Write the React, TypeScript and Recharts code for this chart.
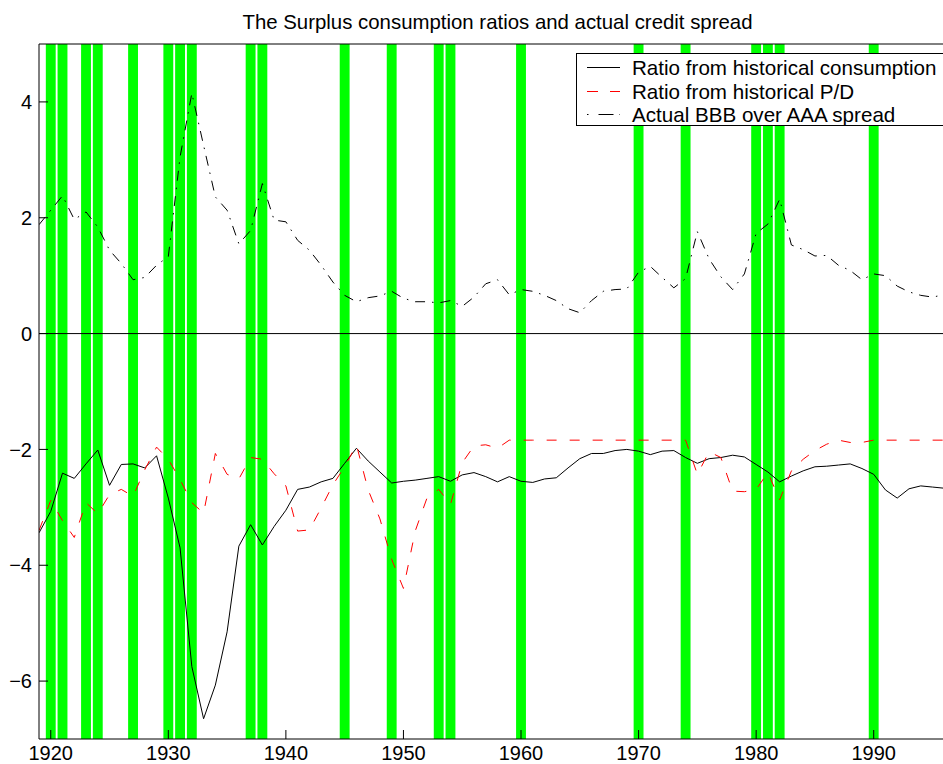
import React from 'react';
import {
  ComposedChart,
  Line,
  XAxis,
  YAxis,
  ReferenceArea,
  ReferenceLine,
  Legend,
} from 'recharts';

// Annual observations
const years = [
  1919, 1920, 1921, 1922, 1923, 1924, 1925, 1926, 1927, 1928,
  1929, 1930, 1931, 1932, 1933, 1934, 1935, 1936, 1937, 1938,
  1939, 1940, 1941, 1942, 1943, 1944, 1945, 1946, 1947, 1948,
  1949, 1950, 1951, 1952, 1953, 1954, 1955, 1956, 1957, 1958,
  1959, 1960, 1961, 1962, 1963, 1964, 1965, 1966, 1967, 1968,
  1969, 1970, 1971, 1972, 1973, 1974, 1975, 1976, 1977, 1978,
  1979, 1980, 1981, 1982, 1983, 1984, 1985, 1986, 1987, 1988,
  1989, 1990, 1991, 1992, 1993, 1994, 1995, 1996,
];

// Surplus consumption ratio implied by historical consumption
const consumptionRatio = [
  -3.44, -3.07, -2.41, -2.5, -2.25, -2.01, -2.62, -2.26, -2.25, -2.32,
  -2.11, -2.84, -3.7, -5.75, -6.65, -6.07, -5.15, -3.67, -3.3, -3.65,
  -3.33, -3.05, -2.69, -2.65, -2.56, -2.5, -2.24, -1.98, -2.2, -2.39,
  -2.58, -2.55, -2.53, -2.5, -2.47, -2.55, -2.44, -2.4, -2.47, -2.56,
  -2.47, -2.55, -2.57, -2.51, -2.49, -2.32, -2.16, -2.07, -2.07, -2.02,
  -2.0, -2.03, -2.09, -2.03, -2.02, -2.14, -2.24, -2.16, -2.14, -2.1,
  -2.13, -2.26, -2.39, -2.56, -2.46, -2.37, -2.3, -2.29, -2.27, -2.25,
  -2.33, -2.43, -2.7, -2.84, -2.68, -2.63, -2.65, -2.67,
];

// Surplus consumption ratio implied by historical price/dividend ratio
const pdRatio = [
  -3.4, -2.88, -3.23, -3.52, -2.92, -3.11, -2.78, -2.69, -2.81, -2.35,
  -1.96, -2.17, -2.52, -2.92, -3.1, -2.07, -2.43, -2.51, -2.14, -2.17,
  -2.42, -2.63, -3.41, -3.39, -3.01, -2.61, -2.3, -1.92, -2.7, -3.2,
  -3.9, -4.4, -3.41, -2.84, -2.69, -2.95, -2.23, -1.94, -1.92, -1.98,
  -1.84, -1.84, -1.84, -1.84, -1.84, -1.84, -1.84, -1.84, -1.84, -1.84,
  -1.84, -1.84, -1.84, -1.84, -1.84, -1.84, -2.43, -2.04, -2.14, -2.72,
  -2.73, -2.69, -2.4, -2.87, -2.37, -2.17, -2.02, -1.91, -1.84, -1.88,
  -1.88, -1.84, -1.84, -1.84, -1.84, -1.84, -1.84, -1.84,
];

// BBB minus AAA corporate bond yield spread
const bbbAaaSpread = [
  1.88, 2.13, 2.38, 1.97, 2.1, 1.84, 1.44, 1.21, 0.93, 0.97,
  1.18, 1.33, 3.05, 4.15, 3.25, 2.36, 2.13, 1.55, 1.78, 2.59,
  1.96, 1.93, 1.61, 1.44, 1.18, 0.89, 0.66, 0.55, 0.62, 0.65,
  0.73, 0.61, 0.55, 0.55, 0.53, 0.57, 0.47, 0.63, 0.86, 0.93,
  0.67, 0.76, 0.73, 0.66, 0.57, 0.43, 0.36, 0.57, 0.73, 0.76,
  0.77, 1.06, 1.16, 0.97, 0.79, 0.95, 1.76, 1.29, 0.98, 0.76,
  1.03, 1.73, 1.89, 2.32, 1.53, 1.45, 1.34, 1.35, 1.18, 1.09,
  0.93, 1.03, 1.0, 0.82, 0.72, 0.66, 0.63, 0.67,
];

// Recession years, shaded in green
const recessionYears = [
  1920, 1921, 1923, 1924, 1927, 1930, 1931, 1932, 1937, 1938,
  1945, 1949, 1953, 1954, 1960, 1970, 1974, 1980, 1981, 1982, 1990,
];

const xTicks = [1920, 1930, 1940, 1950, 1960, 1970, 1980, 1990];
const yTicks = [-6, -4, -2, 0, 2, 4];

const seriesKeys = ['consumption', 'pd', 'spread'];
const seriesNames = [
  'Ratio from historical consumption',
  'Ratio from historical P/D',
  'Actual BBB over AAA spread',
];
const seriesColors = ['#000000', '#ff0000', '#000000'];
const seriesDashes = ['', '10 13', '10 7 1.5 7'];
const legendSampleDashes = ['', '11 12 11', '1.5 10 15 6 1.5'];

const data = years.map((year, i) => ({
  year,
  consumption: consumptionRatio[i],
  pd: pdRatio[i],
  spread: bbbAaaSpread[i],
}));

const FONT = '"Liberation Sans", Arial, Helvetica, sans-serif';
const tickStyle = { fill: '#000', fontSize: 20, fontFamily: FONT };

const formatY = (v: number) => (v < 0 ? '\u2212' + Math.abs(v) : String(v));

const LegendBox = (props: any) => {
  const payload = (props && props.payload) || [];
  const items = seriesKeys.map((key, i) => {
    const entry = payload.find((p: any) => p.dataKey === key);
    return {
      key,
      name: entry ? entry.value : seriesNames[i],
      color: entry ? entry.color : seriesColors[i],
      dash: legendSampleDashes[i],
    };
  });
  return (
    <div
      style={{
        boxSizing: 'border-box',
        width: 380,
        height: 73,
        border: '1px solid #000',
        background: '#fff',
        paddingTop: 2,
        fontFamily: FONT,
        fontSize: 20.6,
        color: '#000',
      }}
    >
      {items.map((it) => (
        <div
          key={it.key}
          style={{
            display: 'flex',
            alignItems: 'center',
            height: 23.5,
            lineHeight: '23.5px',
            paddingLeft: 10,
            whiteSpace: 'nowrap',
          }}
        >
          <svg width={33} height={23} style={{ display: 'block', flex: 'none' }}>
            <line
              x1={0}
              y1={11.5}
              x2={33}
              y2={11.5}
              stroke={it.color}
              strokeWidth={1}
              strokeDasharray={it.dash || undefined}
            />
          </svg>
          <span style={{ marginLeft: 12 }}>{it.name}</span>
        </div>
      ))}
    </div>
  );
};

export default function App() {
  return (
    <div
      style={{
        position: 'fixed',
        left: 0,
        top: 0,
        width: 943,
        height: 764,
        overflow: 'hidden',
        background: '#fff',
      }}
    >
      <div
        style={{
          position: 'absolute',
          left: 39,
          width: 917,
          top: 11,
          textAlign: 'center',
          fontFamily: FONT,
          fontSize: 20.4,
          color: '#000',
          whiteSpace: 'nowrap',
          zIndex: 2,
        }}
      >
        The Surplus consumption ratios and actual credit spread
      </div>
      <ComposedChart
        width={1000}
        height={764}
        data={data}
        margin={{ top: 0, right: 0, bottom: 0, left: 0 }}
      >
        <XAxis
          xAxisId="bottom"
          dataKey="year"
          type="number"
          domain={[1919, 1997]}
          ticks={xTicks}
          interval={0}
          height={25}
          tickSize={-9}
          tickMargin={16}
          stroke="#000"
          tick={tickStyle}
          allowDataOverflow
        />
        <XAxis
          xAxisId="top"
          dataKey="year"
          orientation="top"
          type="number"
          domain={[1919, 1997]}
          ticks={xTicks}
          interval={0}
          height={44}
          tickSize={-9}
          tick={false}
          stroke="#000"
          allowDataOverflow
        />
        <YAxis
          yAxisId="left"
          type="number"
          domain={[-7, 5]}
          ticks={yTicks}
          interval={0}
          width={39}
          tickSize={-9}
          tickMargin={16}
          stroke="#000"
          tick={tickStyle}
          tickFormatter={formatY}
          allowDataOverflow
        />
        <YAxis
          yAxisId="right"
          orientation="right"
          type="number"
          domain={[-7, 5]}
          ticks={yTicks}
          interval={0}
          width={44}
          tickSize={-9}
          tick={false}
          stroke="#000"
          allowDataOverflow
        />
        {recessionYears.map((yr) => (
          <ReferenceArea
            key={yr}
            xAxisId="bottom"
            yAxisId="left"
            x1={yr - 0.42}
            x2={yr + 0.42}
            fill="#00ff00"
            fillOpacity={1}
            stroke="none"
          />
        ))}
        <ReferenceLine
          xAxisId="bottom"
          yAxisId="left"
          y={0}
          stroke="#000"
          strokeWidth={1}
        />
        {seriesKeys.map((key, i) => (
          <Line
            key={key}
            xAxisId="bottom"
            yAxisId="left"
            type="linear"
            dataKey={key}
            name={seriesNames[i]}
            stroke={seriesColors[i]}
            strokeWidth={1}
            strokeDasharray={seriesDashes[i] || undefined}
            dot={false}
            activeDot={false}
            isAnimationActive={false}
          />
        ))}
        <Legend
          layout="vertical"
          align="center"
          verticalAlign="middle"
          content={<LegendBox />}
          wrapperStyle={{ left: 576, top: 53, width: 380, height: 73 }}
        />
      </ComposedChart>
    </div>
  );
}
